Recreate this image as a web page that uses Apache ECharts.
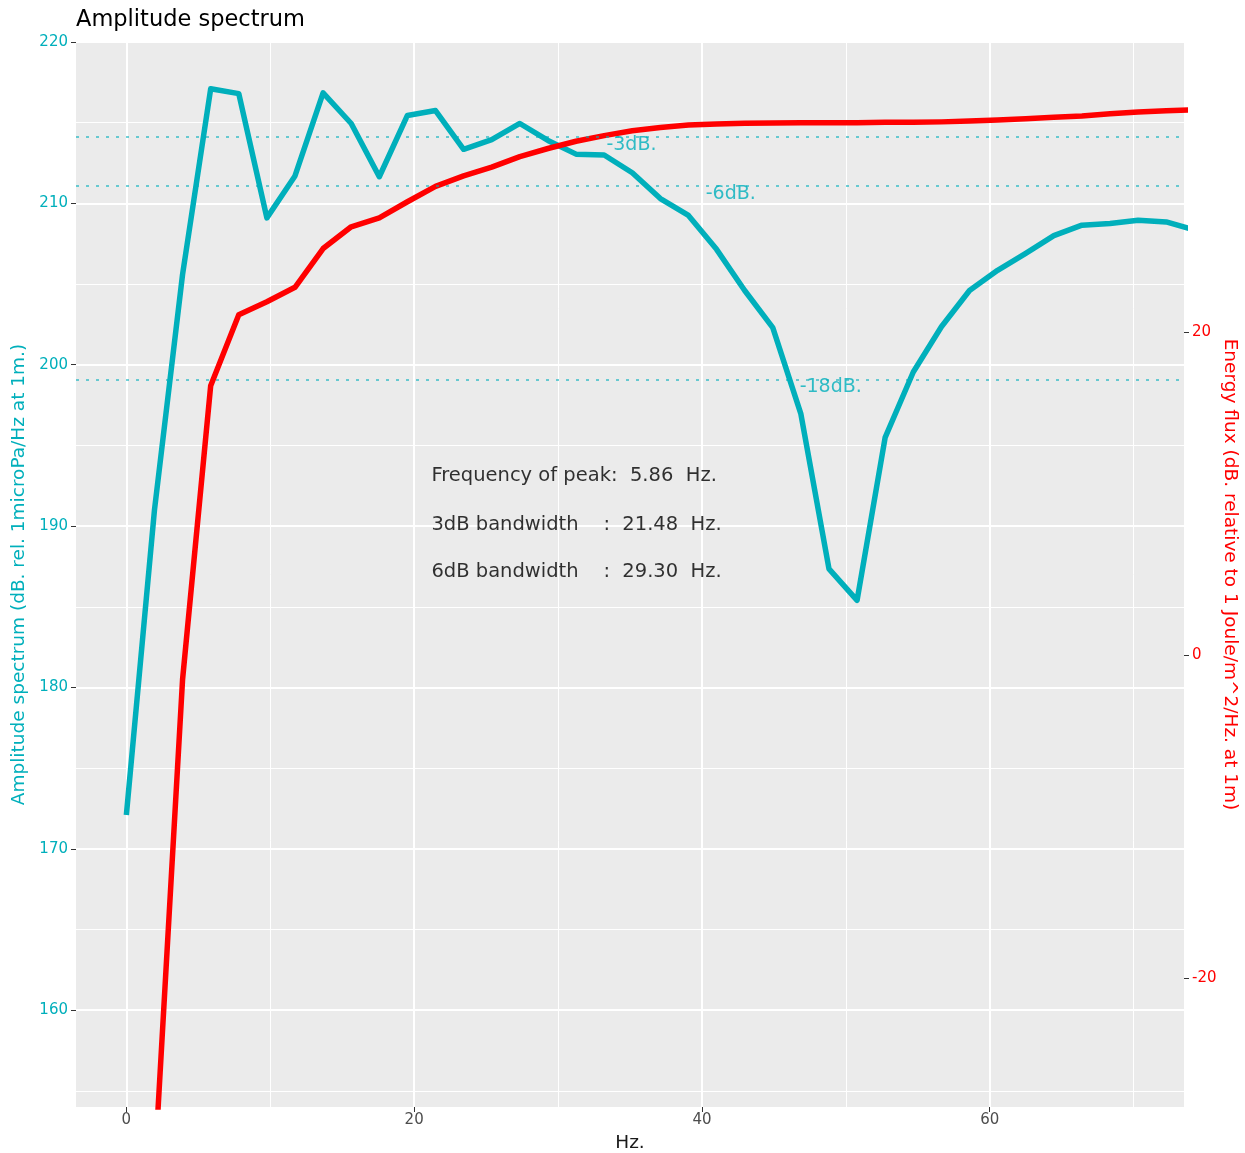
<!DOCTYPE html>
<html>
<head>
<meta charset="utf-8">
<title>Amplitude spectrum</title>
<script src="https://cdn.jsdelivr.net/npm/echarts@6/dist/echarts.min.js"></script>
<style>
  html, body { margin: 0; padding: 0; background: #ffffff; overflow: hidden; }
  #chart { width: 1245px; height: 1153px; }
</style>
</head>
<body>
<div id="chart"></div>
<script>
// Frequency bins (Hz), spacing 1000/512 Hz
const freqHz = [0, 1.9531, 3.9063, 5.8594, 7.8125, 9.7656, 11.7188, 13.6719, 15.625, 17.5781,
  19.5313, 21.4844, 23.4375, 25.3906, 27.3438, 29.2969, 31.25, 33.2031, 35.1563, 37.1094,
  39.0625, 41.0156, 42.9688, 44.9219, 46.875, 48.8281, 50.7813, 52.7344, 54.6875, 56.6406,
  58.5938, 60.5469, 62.5, 64.4531, 66.4063, 68.3594, 70.3125, 72.2656, 74.2188];

// Amplitude spectrum, dB re 1 microPa/Hz at 1 m
const ampDb = [172.1, 191.0, 205.6, 217.1, 216.8, 209.1, 211.7, 216.85, 214.95, 211.65,
  215.45, 215.75, 213.35, 213.95, 214.95, 213.9, 213.05, 213.0, 211.9, 210.3,
  209.25, 207.15, 204.6, 202.3, 196.95, 187.35, 185.4, 195.5, 199.55, 202.35,
  204.6, 205.85, 206.9, 208.0, 208.65, 208.75, 208.95, 208.85, 208.35];

// Energy flux, dB re 1 J/m^2/Hz at 1 m (starts at the second bin)
const fluxDb = [null, -32.0, -1.5, 16.7, 21.1, 21.9, 22.8, 25.2, 26.55, 27.1,
  28.1, 29.05, 29.7, 30.25, 30.9, 31.4, 31.85, 32.2, 32.5, 32.7,
  32.85, 32.92, 32.96, 32.98, 33.0, 33.0, 33.0, 33.02, 33.03, 33.05,
  33.1, 33.16, 33.24, 33.33, 33.42, 33.55, 33.66, 33.74, 33.8];

// Reference levels below the spectral peak
const dBLevels = [-3, -6, -18];
const dBLabels = ['-3dB.', '-6dB.', '-18dB.'];

// Axis tick values
const xTicks = [0, 20, 40, 60];
const ampTicks = [160, 170, 180, 190, 200, 210, 220];
const fluxTicks = [-20, 0, 20];

// ---- derived quantities ----
const peakIdx = ampDb.indexOf(Math.max(...ampDb));
const peakDb = ampDb[peakIdx];
const peakHz = freqHz[peakIdx];
function bandwidth(drop) {
  const lvl = peakDb + drop;
  let first = -1, last = -1;
  ampDb.forEach((v, i) => { if (v >= lvl) { if (first < 0) first = i; last = i; } });
  return freqHz[last] - freqHz[first];
}
const bw3 = bandwidth(-3);
const bw6 = bandwidth(-6);

const annotLines = [
  'Frequency of peak:  ' + peakHz.toFixed(2) + '  Hz.',
  '3dB bandwidth    :  ' + bw3.toFixed(2) + '  Hz.',
  '6dB bandwidth    :  ' + bw6.toFixed(2) + '  Hz.'
];

// layout anchors (data coordinates)
const annotX = 21.2;
const annotY = [193.1, 190.1, 187.15];
const dBLabelX = [35.1, 42.0, 48.95];

const CYAN = '#00AFBB';
const RED = '#FF0000';
const FONT = 'DejaVu Sans';
const FLUX_OFFSET = 182; // flux axis = amplitude axis - 182 dB

const ampSeries = freqHz.map((f, i) => [f, ampDb[i]]);
const fluxSeries = freqHz.map((f, i) => [f, fluxDb[i]]).filter(p => p[1] !== null);

const chart = echarts.init(document.getElementById('chart'), null, { renderer: 'canvas' });

chart.setOption({
  animation: false,
  textStyle: { fontFamily: FONT },
  title: {
    text: 'Amplitude spectrum',
    left: 71,
    top: 4,
    textStyle: { fontFamily: FONT, fontSize: 22.5, fontWeight: 'normal', color: '#000000' }
  },
  grid: {
    left: 76, right: 61, top: 42, bottom: 46,
    show: true, backgroundColor: '#EBEBEB', borderWidth: 0,
    containLabel: false,
    outerBoundsMode: 'none'
  },
  xAxis: {
    type: 'value',
    min: -3.5, max: 73.5,
    name: 'Hz.',
    nameLocation: 'middle',
    nameGap: 27,
    nameTextStyle: { fontFamily: FONT, fontSize: 18.5, color: '#1A1A1A' },
    axisLine: { show: false, onZero: false },
    axisTick: { show: true, length: 5, customValues: xTicks, lineStyle: { color: '#333333', width: 1 } },
    axisLabel: { customValues: xTicks, color: '#4D4D4D', fontSize: 15, margin: 6, fontFamily: FONT },
    splitLine: { show: true, lineStyle: { color: '#FFFFFF', width: 2 } },
    minorTick: { show: false, splitNumber: 2 },
    minorSplitLine: { show: true, lineStyle: { color: '#FFFFFF', width: 1 } }
  },
  yAxis: [
    {
      type: 'value',
      position: 'left',
      min: 154, max: 220,
      name: 'Amplitude spectrum (dB. rel. 1microPa/Hz at 1m.)',
      nameLocation: 'middle',
      nameRotate: 90,
      nameGap: 43,
      nameTextStyle: { fontFamily: FONT, fontSize: 18.5, color: CYAN },
      axisLine: { show: false, onZero: false },
      axisTick: { show: true, length: 5, customValues: ampTicks, lineStyle: { color: '#333333', width: 1 } },
      axisLabel: { customValues: ampTicks, color: CYAN, fontSize: 15, margin: 8, fontFamily: FONT },
      splitLine: { show: true, lineStyle: { color: '#FFFFFF', width: 2 } },
      minorTick: { show: false, splitNumber: 2 },
      minorSplitLine: { show: true, lineStyle: { color: '#FFFFFF', width: 1 } }
    },
    {
      type: 'value',
      position: 'right',
      min: 154 - FLUX_OFFSET, max: 220 - FLUX_OFFSET,
      name: 'Energy flux (dB. relative to 1 Joule/m^2/Hz. at 1m)',
      nameLocation: 'middle',
      nameRotate: -90,
      nameGap: 36,
      nameMoveOverlap: false,
      nameTextStyle: { fontFamily: FONT, fontSize: 18.5, color: RED },
      axisLine: { show: false, onZero: false },
      axisTick: { show: true, length: 5, customValues: fluxTicks, lineStyle: { color: '#333333', width: 1 } },
      axisLabel: { customValues: fluxTicks, color: RED, fontSize: 15, margin: 8, fontFamily: FONT },
      splitLine: { show: false },
      minorSplitLine: { show: false }
    }
  ],
  series: [
    {
      name: 'Amplitude spectrum',
      type: 'line',
      yAxisIndex: 0,
      data: ampSeries,
      showSymbol: false,
      symbol: 'none',
      clip: true,
      lineStyle: { color: CYAN, width: 5.5, join: 'round', cap: 'butt' },
      z: 3,
      markLine: {
        silent: true,
        symbol: ['none', 'none'],
        label: { show: false },
        lineStyle: { color: CYAN, width: 1.5, type: [3, 7], opacity: 0.75 },
        data: dBLevels.map(d => ({ yAxis: peakDb + d }))
      }
    },
    {
      name: 'Energy flux',
      type: 'line',
      yAxisIndex: 1,
      data: fluxSeries,
      showSymbol: false,
      symbol: 'none',
      clip: true,
      lineStyle: { color: RED, width: 5.5, join: 'round', cap: 'butt' },
      z: 4
    },
    {
      name: 'level labels',
      type: 'scatter',
      yAxisIndex: 0,
      silent: true,
      symbolSize: 1,
      itemStyle: { color: 'transparent' },
      data: dBLevels.map((d, i) => ({ value: [dBLabelX[i], peakDb + d], name: dBLabels[i] })),
      label: {
        show: true,
        position: 'inside',
        offset: [0, 8],
        formatter: p => p.name,
        color: CYAN,
        fontSize: 19,
        fontFamily: FONT
      },
      z: 5
    },
    {
      name: 'summary',
      type: 'scatter',
      yAxisIndex: 0,
      silent: true,
      symbolSize: 1,
      itemStyle: { color: 'transparent' },
      data: annotLines.map((t, i) => ({ value: [annotX, annotY[i]], name: t })),
      label: {
        show: true,
        position: 'inside',
        align: 'left',
        formatter: p => p.name,
        color: '#000000',
        fontSize: 19.5,
        fontFamily: FONT
      },
      z: 5
    }
  ]
});
</script>
</body>
</html>
